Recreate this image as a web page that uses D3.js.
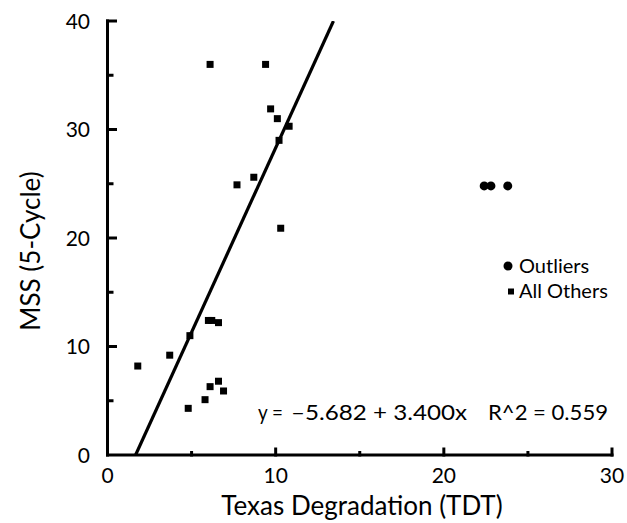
<!DOCTYPE html>
<html>
<head>
<meta charset="utf-8">
<script src="https://cdn.jsdelivr.net/npm/d3@7"></script>
<style>
  html, body { margin: 0; padding: 0; background: #fff; }
  svg { display: block; }
  text { font-family: Futura, "Century Gothic", Lato, "DejaVu Sans", sans-serif; fill: #000; }
</style>
</head>
<body>
<svg id="chart" width="627" height="523"></svg>
<script>
// Texas degradation (TDT) vs MSS (5-cycle)
const othersX = [6.1, 9.4, 9.7, 10.1, 10.8, 10.2, 7.7, 8.7, 10.3, 1.8, 3.7, 4.9, 6.0, 6.2, 6.6, 6.6, 6.1, 6.9, 5.8, 4.8];
const othersY = [36, 36, 31.9, 31.0, 30.3, 29.0, 24.9, 25.6, 20.9, 8.2, 9.2, 11.0, 12.4, 12.4, 12.2, 6.8, 6.3, 5.9, 5.1, 4.3];
const outliersX = [22.4, 22.8, 23.8];
const outliersY = [24.8, 24.8, 24.8];

// least-squares fit reported on the chart
const fitIntercept = -5.682;
const fitSlope = 3.400;
const fitR2 = 0.559;

const xMajor = [0, 10, 20, 30];
const xMinor = [5, 15, 25];
const yMajor = [0, 10, 20, 30, 40];
const yMinor = [5, 15, 25, 35];

const xTitle = "Texas Degradation (TDT)";
const yTitle = "MSS (5-Cycle)";
const legendLabels = ["Outliers", "All Others"];

const svg = d3.select("#chart");
const x = d3.scaleLinear().domain([0, 30]).range([107.5, 612]);
const y = d3.scaleLinear().domain([0, 40]).range([455, 21]);

const ink = "#000";

// fitted line, clipped to the plotting area
svg.append("clipPath").attr("id", "plotClip")
  .append("rect").attr("x", x(0)).attr("y", y(40))
  .attr("width", x(30) - x(0)).attr("height", y(0) - y(40));
const x0 = -fitIntercept / fitSlope;
const x1 = (40 - fitIntercept) / fitSlope;
svg.append("line")
  .attr("clip-path", "url(#plotClip)")
  .attr("x1", x(x0)).attr("y1", y(fitIntercept + fitSlope * x0))
  .attr("x2", x(x1)).attr("y2", y(fitIntercept + fitSlope * x1))
  .attr("stroke", ink).attr("stroke-width", 3.2);

// axes
const axisG = svg.append("g").attr("stroke", ink).attr("stroke-width", 3).attr("stroke-linecap", "square");
axisG.append("line").attr("x1", x(0)).attr("x2", x(30)).attr("y1", y(0)).attr("y2", y(0));
axisG.append("line").attr("x1", x(0)).attr("x2", x(0)).attr("y1", y(0)).attr("y2", y(40));

axisG.selectAll(".xt").data(xMajor.slice(1)).join("line")
  .attr("x1", d => x(d)).attr("x2", d => x(d)).attr("y1", y(0)).attr("y2", y(0) - 6);
axisG.selectAll(".xm").data(xMinor).join("line")
  .attr("x1", d => x(d)).attr("x2", d => x(d)).attr("y1", y(0)).attr("y2", y(0) - 2.5);
axisG.selectAll(".yt").data(yMajor.slice(1)).join("line")
  .attr("x1", x(0)).attr("x2", x(0) + 8).attr("y1", d => y(d)).attr("y2", d => y(d));
axisG.selectAll(".ym").data(yMinor).join("line")
  .attr("x1", x(0)).attr("x2", x(0) + 4.5).attr("y1", d => y(d)).attr("y2", d => y(d));

// tick labels
svg.append("g").selectAll("text").data(xMajor).join("text")
  .attr("x", d => x(d)).attr("y", 483)
  .attr("text-anchor", "middle").attr("font-size", 21)
  .text(d => d);
svg.append("g").selectAll("text").data(yMajor).join("text")
  .attr("x", 90).attr("y", d => y(d) + 7.5)
  .attr("text-anchor", "end").attr("font-size", 21)
  .text(d => d);

// axis titles
svg.append("text").attr("x", 362).attr("y", 515)
  .attr("text-anchor", "middle").attr("font-size", 26)
  .text(xTitle);
svg.append("text")
  .attr("transform", "translate(40,251) rotate(-90)")
  .attr("text-anchor", "middle").attr("font-size", 26)
  .text(yTitle);

// points
svg.append("g").selectAll("rect").data(othersX.map((d, i) => [d, othersY[i]])).join("rect")
  .attr("x", d => x(d[0]) - 3.5).attr("y", d => y(d[1]) - 3.5)
  .attr("width", 7).attr("height", 7).attr("fill", ink);
svg.append("g").selectAll("circle").data(outliersX.map((d, i) => [d, outliersY[i]])).join("circle")
  .attr("cx", d => x(d[0])).attr("cy", d => y(d[1])).attr("r", 4.5).attr("fill", ink);

// legend
const lg = svg.append("g");
lg.append("circle").attr("cx", 508).attr("cy", 266).attr("r", 4.5).attr("fill", ink);
lg.append("rect").attr("x", 508).attr("y", 288.5).attr("width", 6).attr("height", 6).attr("fill", ink);
lg.selectAll("text").data(legendLabels).join("text")
  .attr("x", 519).attr("y", (d, i) => 273 + i * 25)
  .attr("font-size", 20)
  .text(d => d);

// regression equation, set in three runs
const eq = svg.append("g").attr("font-size", 21);
eq.append("text").attr("x", 258).attr("y", 420)
  .attr("textLength", 25).attr("lengthAdjust", "spacingAndGlyphs")
  .text("y =");
eq.append("text").attr("x", 291).attr("y", 420)
  .attr("textLength", 176).attr("lengthAdjust", "spacingAndGlyphs")
  .text(`\u2013${Math.abs(fitIntercept).toFixed(3)} + ${fitSlope.toFixed(3)}x`);
eq.append("text").attr("x", 488).attr("y", 420)
  .attr("textLength", 120).attr("lengthAdjust", "spacingAndGlyphs")
  .text(`R^2 = ${fitR2.toFixed(3)}`);
</script>
</body>
</html>
